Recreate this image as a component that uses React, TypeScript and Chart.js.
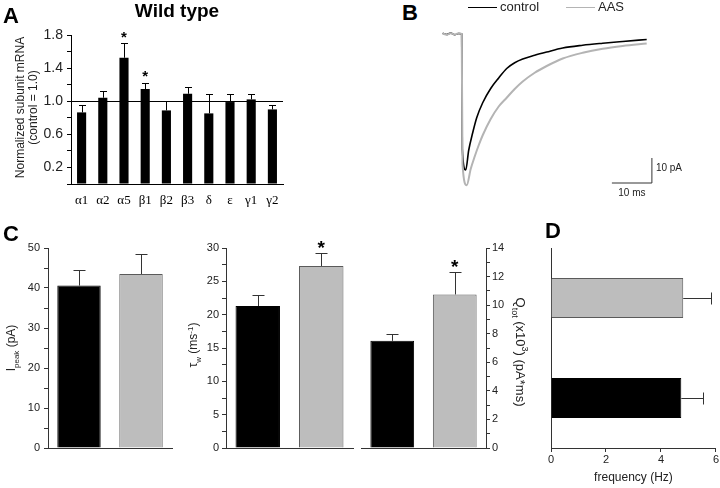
import React, { useEffect, useRef } from 'react';
import { Chart, registerables } from 'chart.js';

Chart.register(...registerables);

const SANS = '"Liberation Sans", Arial, Helvetica, sans-serif';
const SERIF = '"Liberation Serif", "Times New Roman", serif';

// ---------- Panel A: subunit mRNA ----------
const subunitLabels = ['α1', 'α2', 'α5', 'β1', 'β2', 'β3', 'δ', 'ε', 'γ1', 'γ2'];
const subunitMeans = [0.865, 1.042, 1.525, 1.147, 0.889, 1.09, 0.853, 0.99, 1.022, 0.901];
const subunitErrors = [0.089, 0.085, 0.177, 0.076, 0.113, 0.081, 0.237, 0.1, 0.068, 0.049];
const subunitStars = [false, false, true, true, false, false, false, false, false, false];
const mrnaLabelledTicks = [0.2, 0.6, 1.0, 1.4, 1.8];
const controlLevel = 1.0;

// ---------- Panel B: current traces ----------
const controlTimeMs = [0, 1, 2, 3, 4, 4.75, 4.9, 5.75, 6.5, 7.5, 8.5, 10, 12, 14, 16, 18, 20, 23, 26, 30, 35, 40, 45, 51];
const controlCurrentPa = [0.3, -0.2, 0.4, -0.3, 0.2, 0, -46, -54.4, -46.5, -39.5, -33.5, -27.5, -21.8, -17.6, -13.8, -11.5, -10, -8.5, -7.2, -5.6, -4.5, -3.7, -3.0, -2.2];
const aasTimeMs = [0, 1, 2, 3, 4, 4.75, 4.95, 6, 7, 8, 9, 10, 12, 14, 16, 18, 20, 23, 26, 30, 35, 40, 45, 51];
const aasCurrentPa = [0.2, -0.3, 0.3, -0.2, 0.3, 0, -52, -60.5, -54, -49, -44.5, -40.5, -34, -29, -25.5, -22, -19, -15.5, -12.8, -9.8, -7.5, -5.9, -4.8, -3.8];
const scaleBarTimeMs = [42.3, 52.3, 52.3];
const scaleBarCurrentPa = [-59.6, -59.6, -49.6];
const scaleBarLabels = ['10 pA', '10 ms'];

// ---------- Panel C ----------
const groupLabels = ['control', 'AAS'];
const groupFill = ['#000000', '#bdbdbd'];
const groupBorder = ['#000000', '#5a5a5a'];
const peakMeans = [40.6, 43.5];
const peakErrors = [4.0, 5.1];
const peakStars = [false, false];
const tauMeans = [21.3, 27.3];
const tauErrors = [1.6, 2.0];
const tauStars = [false, true];
const chargeMeans = [7.5, 10.75];
const chargeErrors = [0.5, 1.55];
const chargeStars = [false, true];

// ---------- Panel D ----------
const freqLabels = ['AAS', 'control'];
const freqMeans = [4.81, 4.74];
const freqErrors = [1.02, 0.8];
const freqFill = ['#bdbdbd', '#000000'];
const freqBorder = ['#5a5a5a', '#000000'];

// ---------- plugins ----------
const errorBarPlugin = {
  id: 'errorBars',
  afterDatasetsDraw(chart: any, _args: any, opts: any) {
    if (!opts || !opts.errors) return;
    const { ctx } = chart;
    const horizontal = chart.options.indexAxis === 'y';
    const meta = chart.getDatasetMeta(0);
    const valueScale = horizontal ? chart.scales.x : chart.scales.y;
    const values = chart.data.datasets[0].data;
    ctx.save();
    ctx.strokeStyle = opts.color;
    ctx.lineWidth = 1;
    meta.data.forEach((el: any, i: number) => {
      const v = values[i];
      const e = opts.errors[i];
      const p0 = valueScale.getPixelForValue(v);
      const p1 = valueScale.getPixelForValue(v + e);
      ctx.beginPath();
      if (horizontal) {
        const y = Math.round(el.y) + 0.5;
        const xe = Math.round(p1) + 0.5;
        ctx.moveTo(p0, y);
        ctx.lineTo(xe, y);
        ctx.moveTo(xe, y - opts.cap / 2);
        ctx.lineTo(xe, y + opts.cap / 2);
      } else {
        const x = Math.round(el.x) + 0.5;
        const ye = Math.round(p1) + 0.5;
        ctx.moveTo(x, p0);
        ctx.lineTo(x, ye);
        ctx.moveTo(x - opts.cap / 2, ye);
        ctx.lineTo(x + opts.cap / 2, ye);
      }
      ctx.stroke();
      if (opts.stars && opts.stars[i]) {
        ctx.fillStyle = '#000';
        ctx.font = `bold ${opts.starSize}px ${SANS}`;
        ctx.textAlign = 'center';
        ctx.textBaseline = 'alphabetic';
        ctx.fillText('*', el.x, p1 - opts.starOffset + 0.58 * opts.starSize);
      }
    });
    ctx.restore();
  },
};

const refLinePlugin = {
  id: 'refLine',
  afterDatasetsDraw(chart: any, _args: any, opts: any) {
    if (!opts || opts.value == null) return;
    const { ctx, chartArea } = chart;
    const y = Math.round(chart.scales.y.getPixelForValue(opts.value)) + 0.5;
    ctx.save();
    ctx.strokeStyle = opts.color;
    ctx.lineWidth = 1;
    ctx.beginPath();
    ctx.moveTo(chartArea.left, y);
    ctx.lineTo(chartArea.right, y);
    ctx.stroke();
    ctx.restore();
  },
};

// rotated axis title with sub/superscript segments, one or more lines
const richTitlePlugin = {
  id: 'richTitle',
  afterDraw(chart: any, _args: any, opts: any) {
    if (!opts || !opts.lines) return;
    const { ctx, chartArea } = chart;
    const size = opts.size;
    const left = opts.side === 'left';
    const x = left ? chartArea.left - opts.offset : chartArea.right + opts.offset;
    const y = (chartArea.top + chartArea.bottom) / 2 + (opts.shift || 0);
    const fontFor = (k: string) => `${k === 'n' ? size : Math.round(size * 0.7)}px ${SANS}`;
    const n = opts.lines.length;
    const gap = opts.lineGap || size * 1.1;
    ctx.save();
    ctx.translate(x, y);
    ctx.rotate(left ? -Math.PI / 2 : Math.PI / 2);
    ctx.fillStyle = opts.color;
    ctx.textAlign = 'left';
    ctx.textBaseline = 'alphabetic';
    opts.lines.forEach((segments: any[], j: number) => {
      const base = size * 0.36 + (j - (n - 1) / 2) * gap;
      let total = 0;
      segments.forEach((s: any) => {
        ctx.font = fontFor(s.k);
        total += ctx.measureText(s.t).width;
      });
      let cx = -total / 2;
      segments.forEach((s: any) => {
        ctx.font = fontFor(s.k);
        const dy = s.k === 'sub' ? size * 0.3 : s.k === 'sup' ? -size * 0.4 : 0;
        ctx.fillText(s.t, cx, base + dy);
        cx += ctx.measureText(s.t).width;
      });
    });
    ctx.restore();
  },
};

const traceNotesPlugin = {
  id: 'traceNotes',
  afterDraw(chart: any, _args: any, opts: any) {
    if (!opts) return;
    const { ctx } = chart;
    ctx.save();
    ctx.font = `${opts.legendSize}px ${SANS}`;
    ctx.textBaseline = 'middle';
    ctx.textAlign = 'left';
    let x = opts.legendX;
    const y = opts.legendY;
    chart.data.datasets.forEach((ds: any) => {
      if (!ds.label) return;
      ctx.strokeStyle = ds.borderColor;
      ctx.lineWidth = 1;
      ctx.beginPath();
      ctx.moveTo(x, y + 0.5);
      ctx.lineTo(x + 29, y + 0.5);
      ctx.stroke();
      ctx.fillStyle = '#222';
      ctx.fillText(ds.label, x + 32, y);
      x += 32 + ctx.measureText(ds.label).width + 27;
    });
    const xs = chart.scales.x;
    const ys = chart.scales.y;
    ctx.font = `${opts.barSize}px ${SANS}`;
    ctx.fillStyle = '#222';
    const vx = xs.getPixelForValue(scaleBarTimeMs[2]);
    const vy = ys.getPixelForValue((scaleBarCurrentPa[1] + scaleBarCurrentPa[2]) / 2);
    ctx.textAlign = 'left';
    ctx.fillText(scaleBarLabels[0], vx + 4, vy - 2);
    const hx = xs.getPixelForValue((scaleBarTimeMs[0] + scaleBarTimeMs[1]) / 2);
    const hy = ys.getPixelForValue(scaleBarCurrentPa[0]);
    ctx.textAlign = 'center';
    ctx.fillText(scaleBarLabels[1], hx, hy + 10);
    ctx.restore();
  },
};

// ---------- configs ----------
const baseOptions = {
  responsive: false,
  animation: false as const,
  events: [] as any[],
};

const configA: any = {
  type: 'bar',
  data: {
    labels: subunitLabels,
    datasets: [{ data: subunitMeans, backgroundColor: '#000', barPercentage: 0.43, categoryPercentage: 1 }],
  },
  options: {
    ...baseOptions,
    layout: { padding: { left: 0, right: 17, top: 0, bottom: 0 } },
    plugins: {
      legend: { display: false },
      tooltip: { enabled: false },
      title: {
        display: true,
        text: 'Wild type',
        fullSize: false,
        color: '#000',
        font: { family: SANS, size: 19, weight: 'bold', lineHeight: 1.2 },
        padding: { top: 0.6, bottom: 11.6 },
      },
      errorBars: { errors: subunitErrors, stars: subunitStars, color: '#000', cap: 7, starSize: 15, starOffset: 10 },
      refLine: { value: controlLevel, color: '#000' },
      richTitle: {
        side: 'left', offset: 45, size: 12, color: '#222', lineGap: 12.5, shift: -2,
        lines: [[{ t: 'Normalized subunit mRNA', k: 'n' }], [{ t: '(control = 1.0)', k: 'n' }]],
      },
    },
    scales: {
      x: {
        grid: { display: true, drawOnChartArea: false, drawTicks: false },
        border: { color: '#000', width: 1 },
        ticks: { font: { family: SERIF, size: 13 }, color: '#000', padding: 9 },
        afterFit: (s: any) => { s.height = 31; },
      },
      y: {
        min: 0,
        max: 1.8,
        border: { color: '#000', width: 1 },
        grid: { drawOnChartArea: false, drawTicks: true, tickLength: 4, color: '#000' },
        ticks: {
          stepSize: 0.2,
          autoSkip: false,
          padding: 4,
          color: '#222',
          font: { family: SANS, size: 14 },
          callback: (v: any) => {
            const r = Math.round(Number(v) * 10) / 10;
            return mrnaLabelledTicks.some((t) => Math.abs(t - r) < 1e-6) ? r.toFixed(1) : '';
          },
        },
        afterFit: (s: any) => { s.width = 71; },
      },
    },
  },
  plugins: [errorBarPlugin, refLinePlugin, richTitlePlugin],
};

const configB: any = {
  type: 'line',
  data: {
    datasets: [
      {
        label: 'control',
        data: controlTimeMs.map((t, i) => ({ x: t, y: controlCurrentPa[i] })),
        borderColor: '#000000',
        borderWidth: 1.6,
        pointRadius: 0,
        cubicInterpolationMode: 'monotone',
        order: 1,
      },
      {
        label: 'AAS',
        data: aasTimeMs.map((t, i) => ({ x: t, y: aasCurrentPa[i] })),
        borderColor: '#b4b4b4',
        borderWidth: 2,
        pointRadius: 0,
        cubicInterpolationMode: 'monotone',
        order: 0,
      },
      {
        label: '',
        data: scaleBarTimeMs.map((t, i) => ({ x: t, y: scaleBarCurrentPa[i] })),
        borderColor: '#333',
        borderWidth: 1,
        pointRadius: 0,
        tension: 0,
        order: 2,
      },
    ],
  },
  options: {
    ...baseOptions,
    layout: { padding: 0 },
    plugins: {
      legend: { display: false },
      tooltip: { enabled: false },
      traceNotes: { legendX: 38, legendY: 7, legendSize: 13, barSize: 10 },
    },
    scales: {
      x: { type: 'linear', display: false, min: -3.175, max: 69.325 },
      y: { type: 'linear', display: false, min: -72.4, max: 13.6 },
    },
  },
  plugins: [traceNotesPlugin],
};

function barPanel(o: any): any {
  return {
    type: 'bar',
    data: {
      labels: groupLabels,
      datasets: [{
        data: o.means,
        backgroundColor: groupFill,
        borderColor: groupBorder,
        borderWidth: 1,
        borderSkipped: 'bottom',
        barPercentage: 0.7,
        categoryPercentage: 1,
      }],
    },
    options: {
      ...baseOptions,
      layout: { padding: o.padding },
      plugins: {
        legend: { display: false },
        tooltip: { enabled: false },
        errorBars: { errors: o.errors, stars: o.stars, color: '#333', cap: 12, starSize: 19, starOffset: 10 },
        richTitle: o.title,
      },
      scales: {
        x: {
          ticks: { display: false },
          grid: { display: true, drawOnChartArea: false, drawTicks: false },
          border: { color: '#333', width: 1 },
          afterFit: (s: any) => { s.height = 0; },
        },
        y: {
          position: o.pos,
          min: 0,
          max: o.max,
          border: { color: '#333', width: 1 },
          grid: { drawOnChartArea: false, drawTicks: true, tickLength: 4, color: '#333' },
          ticks: {
            stepSize: o.step,
            autoSkip: false,
            padding: o.tickPad,
            color: '#222',
            font: { family: SANS, size: 11 },
            callback: (v: any) => {
              const n = Number(v);
              return Math.abs(n / o.labelEvery - Math.round(n / o.labelEvery)) < 1e-6 ? String(Math.round(n)) : '';
            },
          },
          afterFit: (s: any) => { s.width = o.yWidth; },
        },
      },
    },
    plugins: [errorBarPlugin, richTitlePlugin],
  };
}

const configC1 = barPanel({
  means: peakMeans, errors: peakErrors, stars: peakStars, max: 50, step: 5, labelEvery: 10, pos: 'left',
  yWidth: 48, tickPad: 4, padding: { left: 0, right: 8, top: 18, bottom: 22 },
  title: { side: 'left', offset: 37, size: 12, color: '#222', lines: [[{ t: 'I', k: 'n' }, { t: 'peak', k: 'sub' }, { t: ' (pA)', k: 'n' }]] },
});
const configC2 = barPanel({
  means: tauMeans, errors: tauErrors, stars: tauStars, max: 30, step: 2.5, labelEvery: 5, pos: 'left',
  yWidth: 46, tickPad: 3, padding: { left: 0, right: 7, top: 18, bottom: 22 },
  title: { side: 'left', offset: 33, size: 12, color: '#222', shift: -3, lines: [[{ t: 'τ', k: 'n' }, { t: 'w', k: 'sub' }, { t: ' (ms', k: 'n' }, { t: '-1', k: 'sup' }, { t: ')', k: 'n' }]] },
});
const configC3 = barPanel({
  means: chargeMeans, errors: chargeErrors, stars: chargeStars, max: 14, step: 1, labelEvery: 2, pos: 'right',
  yWidth: 46, tickPad: 2, padding: { left: 6, right: 0, top: 18, bottom: 22 },
  title: { side: 'right', offset: 35, size: 13, color: '#222', shift: 4, lines: [[{ t: 'Q', k: 'n' }, { t: 'tot', k: 'sub' }, { t: ' (x10', k: 'n' }, { t: '3', k: 'sup' }, { t: ') (pA*ms)', k: 'n' }]] },
});

const configD: any = {
  type: 'bar',
  data: {
    labels: freqLabels,
    datasets: [{
      data: freqMeans,
      backgroundColor: freqFill,
      borderColor: freqBorder,
      borderWidth: 1,
      borderSkipped: 'left',
      barPercentage: 0.4,
      categoryPercentage: 1,
    }],
  },
  options: {
    ...baseOptions,
    indexAxis: 'y',
    layout: { padding: { left: 0, right: 3, top: 18, bottom: 0 } },
    plugins: {
      legend: { display: false },
      tooltip: { enabled: false },
      errorBars: { errors: freqErrors, color: '#333', cap: 12 },
    },
    scales: {
      x: {
        min: 0,
        max: 6,
        border: { color: '#333', width: 1 },
        grid: { drawOnChartArea: false, drawTicks: true, tickLength: 4, color: '#333' },
        ticks: { stepSize: 2, padding: 1, color: '#222', font: { family: SANS, size: 11 } },
        title: { display: true, text: 'frequency (Hz)', color: '#222', font: { family: SANS, size: 12, lineHeight: 1.2 }, padding: { top: 0, bottom: 3 } },
        afterFit: (s: any) => { s.height = 40; },
      },
      y: {
        ticks: { display: false },
        grid: { display: true, drawOnChartArea: false, drawTicks: false },
        border: { color: '#333', width: 1 },
        afterFit: (s: any) => { s.width = 19; },
      },
    },
  },
  plugins: [errorBarPlugin],
};

function ChartCanvas({ left, top, width, height, config }: any) {
  const ref = useRef<HTMLCanvasElement>(null);
  useEffect(() => {
    const chart = new Chart(ref.current as HTMLCanvasElement, config);
    return () => chart.destroy();
  }, [config]);
  return (
    <canvas
      ref={ref}
      width={width}
      height={height}
      style={{ position: 'absolute', left, top, width, height }}
    />
  );
}

const letterStyle = (left: number, top: number): React.CSSProperties => ({
  position: 'absolute',
  left,
  top,
  fontFamily: SANS,
  fontWeight: 'bold',
  fontSize: 22,
  lineHeight: '22px',
  color: '#000',
});

export default function App() {
  return (
    <div style={{ position: 'fixed', left: 0, top: 0, width: 720, height: 488, background: '#fff', overflow: 'hidden' }}>
      <ChartCanvas left={0} top={0} width={300} height={215} config={configA} />
      <ChartCanvas left={430} top={0} width={290} height={215} config={configB} />
      <ChartCanvas left={0} top={230} width={180} height={240} config={configC1} />
      <ChartCanvas left={180} top={230} width={180} height={240} config={configC2} />
      <ChartCanvas left={355} top={230} width={177} height={240} config={configC3} />
      <ChartCanvas left={532} top={230} width={188} height={258} config={configD} />
      <div style={letterStyle(3, 5)}>A</div>
      <div style={letterStyle(402, 2)}>B</div>
      <div style={letterStyle(3, 223)}>C</div>
      <div style={letterStyle(545, 220)}>D</div>
    </div>
  );
}
